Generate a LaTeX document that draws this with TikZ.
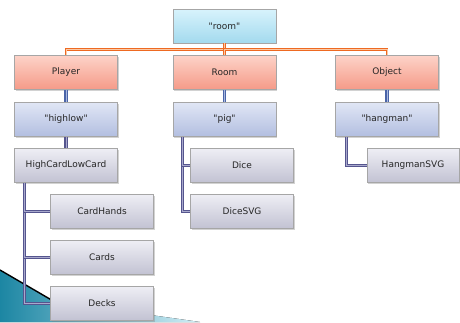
\documentclass[tikz,border=0pt]{standalone}
\usepackage{fontspec}
\setmainfont{DejaVu Sans}[Ligatures=TeXOff]
\usetikzlibrary{shadows,calc}
\definecolor{cyanT}{HTML}{D8F3FC}
\definecolor{cyanB}{HTML}{A3DAEE}
\definecolor{salT}{HTML}{FDD3C8}
\definecolor{salB}{HTML}{F59A88}
\definecolor{bluT}{HTML}{E0E6F5}
\definecolor{bluB}{HTML}{B2BEE0}
\definecolor{gryT}{HTML}{EEEEF4}
\definecolor{gryB}{HTML}{C2C2D3}
\definecolor{orgL}{HTML}{EE6A22}
\definecolor{orgI}{HTML}{FBC9A6}
\definecolor{bluL}{HTML}{4A64A8}
\definecolor{bluI}{HTML}{A9B8DE}
\definecolor{purL}{HTML}{55558E}
\definecolor{purI}{HTML}{A8A8CC}
\definecolor{tealD}{HTML}{1C86A3}
\definecolor{tealL}{HTML}{D2EEF6}
\tikzset{
  box/.style={draw=black!35, line width=0.5pt, minimum width=103pt, minimum height=34pt,
    inner sep=0pt, font=\fontsize{9}{11}\selectfont, text=black!85,
    drop shadow={shadow xshift=1pt, shadow yshift=-1.2pt, opacity=0.35}},
  lv1/.style={box, top color=cyanT, bottom color=cyanB},
  lv2/.style={box, top color=salT, bottom color=salB},
  lv3/.style={box, top color=bluT, bottom color=bluB},
  lv4/.style={box, top color=gryT, bottom color=gryB},
  olink/.style={draw=orgL, line width=1pt, double=orgI, double distance=0.9pt},
  blink/.style={draw=bluL, line width=1.1pt, double=bluI, double distance=0.9pt},
  plink/.style={draw=purL, line width=1.1pt, double=purI, double distance=0.9pt},
}
\begin{document}
\begin{tikzpicture}[x=1pt,y=-1pt]
\useasboundingbox[fill=white] (0,0) rectangle (460,322);
% decorative wedge
\fill[left color=tealD, right color=tealL] (0,270) -- (52,301) -- (200,322) -- (0,322) -- cycle;
\draw[black, line width=1.4pt] (0,270) -- (55,302);

\node[lv1] (root) at (224.5,26) {"room"};
\node[lv2] (player) at (66,72.5) {Player};
\node[lv2] (roomc) at (224.5,72.5) {Room};
\node[lv2] (object) at (387,72.5) {Object};
\node[lv3] (highlow) at (66,119.5) {"highlow"};
\node[lv3] (pig) at (224.5,119.5) {"pig"};
\node[lv3] (hangman) at (387,119.5) {"hangman"};
\node[lv4] (hclc) at (66,165.5) {HighCardLowCard};
\node[lv4] (cardhands) at (102,211.5) {CardHands};
\node[lv4] (cards) at (102,257.5) {Cards};
\node[lv4] (decks) at (102,303.5) {Decks};
\node[lv4] (dice) at (242,165.5) {Dice};
\node[lv4] (dicesvg) at (242,211.5) {DiceSVG};
\node[lv4, minimum width=92pt] (hangsvg) at (413,165.5) {HangmanSVG};

\coordinate (j) at ([yshift=-6pt]root.south);
\draw[olink] (root.south) -- (j);
\draw[olink] (j) -| (player.north);
\draw[olink] (j) -- (roomc.north);
\draw[olink] (j) -| (object.north);

\draw[blink] (player.south) -- (highlow.north);
\draw[blink] (roomc.south) -- (pig.north);
\draw[blink] (object.south) -- (hangman.north);
\draw[plink] (highlow.south) -- (hclc.north);

\draw[plink] ([xshift=10pt]hclc.south west) |- (decks.west);
\draw[plink] ([xshift=10pt]hclc.south west) |- (cards.west);
\draw[plink] ([xshift=10pt]hclc.south west) |- (cardhands.west);

\draw[plink] ([xshift=10pt]pig.south west) |- (dicesvg.west);
\draw[plink] ([xshift=10pt]pig.south west) |- (dice.west);

\draw[plink] ([xshift=11pt]hangman.south west) |- (hangsvg.west);
\end{tikzpicture}
\end{document}
